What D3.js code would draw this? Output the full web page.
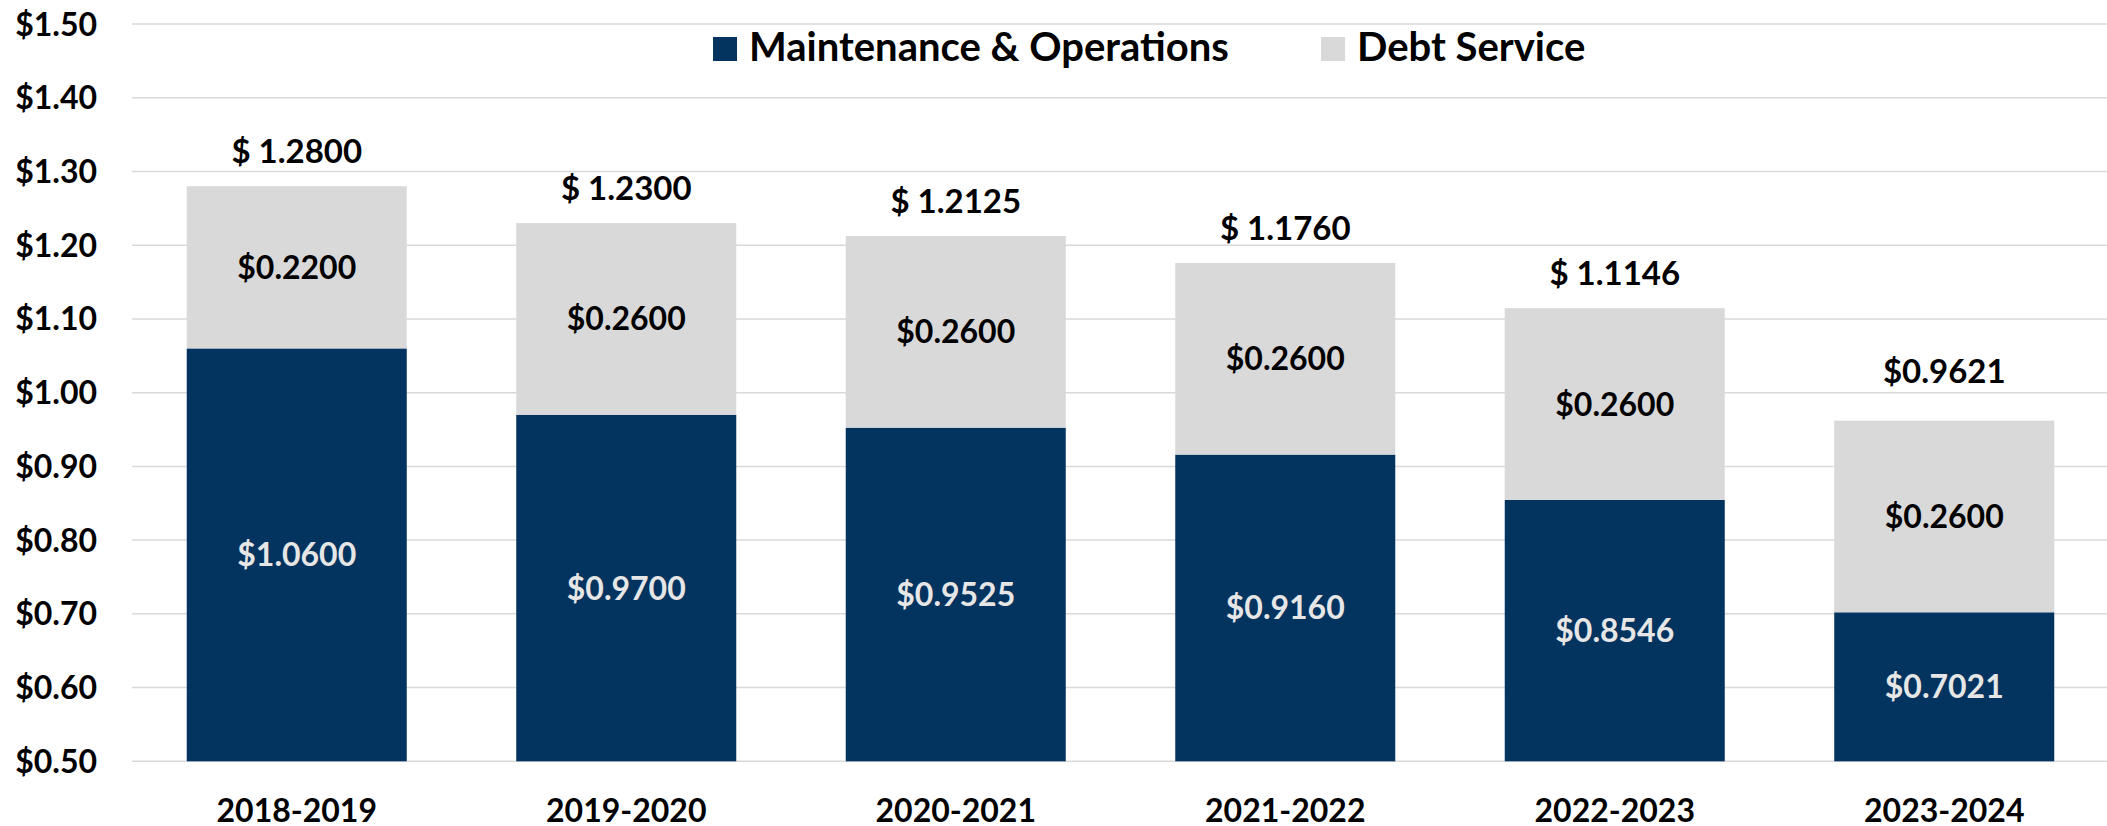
<!DOCTYPE html>
<html lang="en">
<head>
	<meta charset="UTF-8">
	<title>Tax Rate</title>
	<script src="https://d3js.org/d3.v7.min.js"></script>
</head>

<style>
body { margin: 0; background: #fff; }
svg text {
    font-family: Lato, "Open Sans", sans-serif;
    font-weight: bold;
}
.grid line {
    stroke: #d9d9d9;
    stroke-width: 1.5px;
}
</style>

<script>
	// data
	var years = ['2018-2019', '2019-2020', '2020-2021', '2021-2022', '2022-2023', '2023-2024'];
	var maintOps = [1.0600, 0.9700, 0.9525, 0.9160, 0.8546, 0.7021];
	var debtService = [0.2200, 0.2600, 0.2600, 0.2600, 0.2600, 0.2600];
	var totalLabels = ['$ 1.2800', '$ 1.2300', '$ 1.2125', '$ 1.1760', '$ 1.1146', '$0.9621'];
	var yTicks = [0.5, 0.6, 0.7, 0.8, 0.9, 1.0, 1.1, 1.2, 1.3, 1.4, 1.5];
	var seriesNames = ['Maintenance & Operations', 'Debt Service'];
	var colors = ['#03335f', '#d9d9d9'];

	window.onload = function(){

		var width = 2107, height = 826;
		var left = 132, right = 2109, top = 24, bottom = 761.3;

		var x = d3.scaleBand()
		          .domain(years)
		          .range([left, right])
		          .paddingInner(0.3323)
		          .paddingOuter(0.3323 / 2);

		var y = d3.scaleLinear()
		          .domain([0.5, 1.5])
		          .range([bottom, top]);

		var svg = d3.select('body')
		            .append('svg')
		            .attr('width', width)
		            .attr('height', height);

		// gridlines
		svg.append('g')
		   .attr('class', 'grid')
		   .selectAll('line')
		   .data(yTicks)
		   .enter()
		   .append('line')
		   .attr('x1', left)
		   .attr('x2', width)
		   .attr('y1', function(d){ return y(d); })
		   .attr('y2', function(d){ return y(d); });

		// y labels
		svg.append('g')
		   .selectAll('text')
		   .data(yTicks)
		   .enter()
		   .append('text')
		   .attr('x', 97)
		   .attr('y', function(d){ return y(d); })
		   .attr('dy', '0.36em')
		   .attr('text-anchor', 'end')
		   .attr('font-size', 32)
		   .attr('fill', '#000')
		   .text(function(d){ return '$' + d.toFixed(2); });

		// stacked table
		var rows = years.map(function(yr, i){
			return { year: yr, mo: maintOps[i], ds: debtService[i] };
		});
		var layers = d3.stack().keys(['mo', 'ds'])(rows);

		// bars are clipped at the axis minimum
		var base = y.domain()[0];
		function y0(d){ return y(Math.max(d[0], base)); }
		function y1(d){ return y(d[1]); }

		var layer = svg.selectAll('g.layer')
		               .data(layers)
		               .enter()
		               .append('g')
		               .attr('class', 'layer')
		               .attr('fill', function(d, i){ return colors[i]; });

		layer.selectAll('rect')
		     .data(function(d){ return d; })
		     .enter()
		     .append('rect')
		     .attr('x', function(d){ return x(d.data.year); })
		     .attr('width', x.bandwidth())
		     .attr('y', y1)
		     .attr('height', function(d){ return y0(d) - y1(d); });

		// segment labels
		layers.forEach(function(ly, k){
			svg.append('g')
			   .selectAll('text')
			   .data(ly)
			   .enter()
			   .append('text')
			   .attr('x', function(d){ return x(d.data.year) + x.bandwidth() / 2; })
			   .attr('y', function(d){ return (y0(d) + y1(d)) / 2; })
			   .attr('dy', '0.36em')
			   .attr('text-anchor', 'middle')
			   .attr('font-size', 32)
			   .attr('fill', k === 0 ? '#e7e6e6' : '#000')
			   .text(function(d){ return '$' + (d[1] - d[0]).toFixed(4); });
		});

		// totals above bars (last one sits a bit higher in the original)
		svg.append('g')
		   .selectAll('text')
		   .data(rows)
		   .enter()
		   .append('text')
		   .attr('x', function(d){ return x(d.year) + x.bandwidth() / 2; })
		   .attr('y', function(d, i){
		   	   var off = i === rows.length - 1 ? 38 : 23;
		   	   return y(d.mo + d.ds) - off;
		   })
		   .attr('text-anchor', 'middle')
		   .attr('font-size', 33)
		   .attr('fill', '#000')
		   .text(function(d, i){ return totalLabels[i]; });

		// x labels
		svg.append('g')
		   .selectAll('text')
		   .data(years)
		   .enter()
		   .append('text')
		   .attr('x', function(d){ return x(d) + x.bandwidth() / 2; })
		   .attr('y', 822)
		   .attr('text-anchor', 'middle')
		   .attr('font-size', 32)
		   .attr('fill', '#000')
		   .text(function(d){ return d; });

		// legend
		var legendX = [713, 1321];
		var legend = svg.append('g')
		                .selectAll('g')
		                .data(seriesNames)
		                .enter()
		                .append('g')
		                .attr('transform', function(d, i){ return 'translate(' + legendX[i] + ',37)'; });
		legend.append('rect')
		      .attr('width', 24)
		      .attr('height', 24)
		      .attr('fill', function(d, i){ return colors[i]; });
		legend.append('text')
		      .attr('x', 36)
		      .attr('y', 24)
		      .attr('font-size', 40)
		      .attr('fill', '#000')
		      .text(function(d){ return d; });
	}
</script>
<body>

</body>
</html>
